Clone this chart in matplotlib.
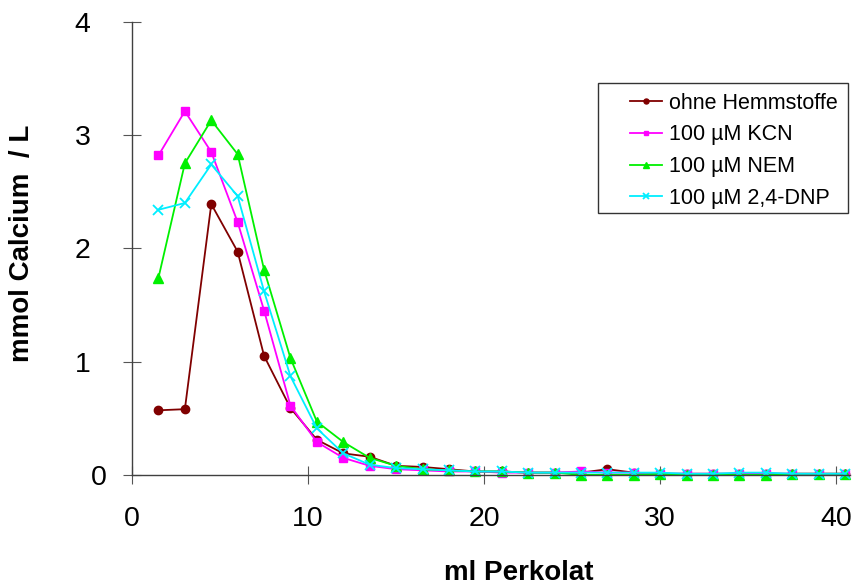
import matplotlib
matplotlib.use("Agg")
import matplotlib.pyplot as plt
from matplotlib.patches import Rectangle

plt.rcParams['font.family'] = ['Liberation Sans', 'DejaVu Sans']

# ml Perkolat (fractions of 1.5 ml)
perkolat = [1.5, 3, 4.5, 6, 7.5, 9, 10.5, 12, 13.5, 15, 16.5, 18, 19.5, 21, 22.5,
            24, 25.5, 27, 28.5, 30, 31.5, 33, 34.5, 36, 37.5, 39, 40.5]

ohne = [0.57, 0.58, 2.39, 1.97, 1.05, 0.59, 0.31, 0.19, 0.16, 0.08, 0.07, 0.05, 0.03, 0.03,
        0.02, 0.02, 0.02, 0.05, 0.02, 0.01, 0.01, 0.01, 0.01, 0.01, 0.01, 0.01, 0.01]
kcn = [2.82, 3.21, 2.85, 2.23, 1.45, 0.61, 0.29, 0.15, 0.08, 0.05, 0.04, 0.03, 0.03, 0.02,
       0.02, 0.02, 0.03, 0.02, 0.02, 0.01, 0.01, 0.01, 0.01, 0.01, 0.01, 0.01, 0.01]
nem = [1.74, 2.75, 3.13, 2.83, 1.81, 1.03, 0.47, 0.29, 0.15, 0.08, 0.05, 0.04, 0.03, 0.03,
       0.02, 0.02, 0.00, 0.00, 0.00, 0.01, 0.00, 0.00, 0.00, 0.00, 0.01, 0.01, 0.01]
dnp = [2.34, 2.40, 2.74, 2.46, 1.62, 0.87, 0.41, 0.19, 0.09, 0.06, 0.05, 0.04, 0.03, 0.03,
       0.02, 0.02, 0.02, 0.02, 0.02, 0.02, 0.01, 0.01, 0.02, 0.02, 0.01, 0.01, 0.01]

xticks = [0, 10, 20, 30, 40]
yticks = [0, 1, 2, 3, 4]

fig = plt.figure(figsize=(8.52, 5.87), dpi=100)
ax = fig.add_axes([0.155, 0.191, 0.843, 0.772])

ax.plot(perkolat, ohne, color='#800000', marker='o', ms=6, lw=1.3,
        label='ohne Hemmstoffe', clip_on=False)
ax.plot(perkolat, kcn, color='#ff00ff', marker='s', ms=6, lw=1.3,
        label='100 µM KCN', clip_on=False)
ax.plot(perkolat, nem, color='#00f000', marker='^', ms=7, lw=1.3,
        label='100 µM NEM', clip_on=False)
ax.plot(perkolat, dnp, color='#00eeff', marker='x', ms=7, mew=1.3, lw=1.3,
        label='100 µM 2,4-DNP', clip_on=False)

ax.set_xlim(0, 40.8)
ax.set_ylim(0, 4)
ax.set_xticks(xticks)
ax.set_yticks(yticks)
# the "0" on the y axis sits closer to the axis in the original
ax.set_yticklabels([''] + [str(v) for v in yticks[1:]])
ax.annotate('0', xy=(0, 0), xycoords=('axes fraction', 'data'),
            xytext=(-18, 0), textcoords='offset points', ha='right',
            va='center_baseline', fontsize=20.5)

for s in ['top', 'right']:
    ax.spines[s].set_visible(False)
for s in ['left', 'bottom']:
    ax.spines[s].set_color('#404040')
    ax.spines[s].set_linewidth(1.0)

ax.tick_params(direction='inout', length=13.5, width=0.8, color='#555555',
               labelsize=20.5)
ax.tick_params(axis='y', pad=23)
ax.tick_params(axis='x', pad=15.5)

ax.set_xlabel('ml Perkolat', fontsize=20, fontweight='bold', va='baseline')
ax.set_ylabel('mmol Calcium  / L', fontsize=20, fontweight='bold')
ax.xaxis.set_label_coords(0.539, -0.2318)
ax.yaxis.set_label_coords(-0.135, 0.51)

# legend box drawn separately: the original has a wide left margin
ax.add_patch(Rectangle((0.649, 0.578), 0.348, 0.287, transform=ax.transAxes,
                       fill=False, edgecolor='#333333', lw=1.0, clip_on=False,
                       zorder=4))
ax.legend(loc='upper left', bbox_to_anchor=(0.6797, 0.865), borderaxespad=0,
          fontsize=15.5, frameon=False, markerscale=0.6,
          handlelength=1.5, handletextpad=0.3, labelspacing=0.5,
          borderpad=0.45)

fig.savefig('out.png', dpi=100)
